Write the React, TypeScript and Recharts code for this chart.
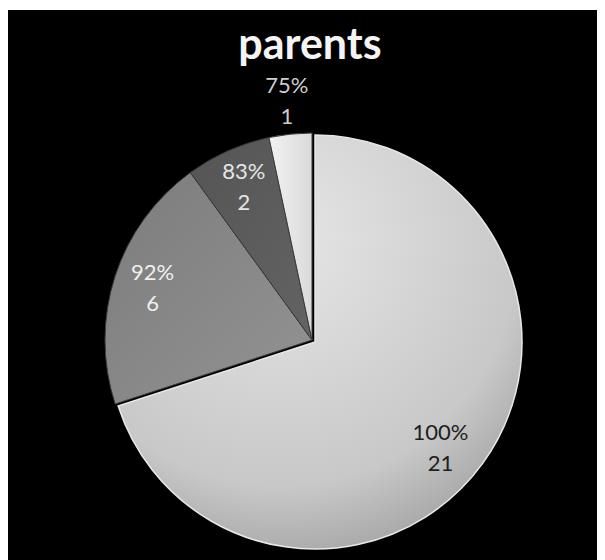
import React from "react";
import { PieChart, Pie, Cell } from "recharts";

const categories = ["100%", "92%", "83%", "75%"];
const counts = [21, 6, 2, 1];
const title = "parents";

const sliceFills = ["url(#gBig)", "url(#gMid)", "url(#gDark)", "url(#gLight)"];
const labelColors = ["#1e1e1e", "#efefef", "#e6e6e6", "#cfcfcf"];
const labelAngleShift = [-4, 0, 0, 0];

const data = categories.map((c, i) => ({ name: c, value: counts[i] }));

const RADIAN = Math.PI / 180;

const renderLabel = (props: any) => {
  const { cx, cy, midAngle, outerRadius, index } = props;
  const r = index === 3 ? outerRadius + 33 : outerRadius * 0.81;
  const a = midAngle + labelAngleShift[index];
  const x = cx + r * Math.cos(-a * RADIAN);
  const y = cy + r * Math.sin(-a * RADIAN);
  return (
    <text
      x={x}
      y={y}
      textAnchor="middle"
      fill={labelColors[index]}
      fontFamily="Lato, 'Open Sans', sans-serif"
      fontSize={22}
    >
      <tspan x={x} dy={-8}>{categories[index]}</tspan>
      <tspan x={x} dy={31}>{counts[index]}</tspan>
    </text>
  );
};

export default function App() {
  return (
    <div
      style={{
        position: "relative",
        marginLeft: 0,
        marginTop: 2,
        width: 597,
        height: 550,
        background: "#000",
        overflow: "hidden",
      }}
    >
      <div
        style={{
          position: "absolute",
          left: 0,
          width: 604,
          top: 7,
          textAlign: "center",
          color: "#f4f4f4",
          fontFamily: "Lato, 'Open Sans', sans-serif",
          fontWeight: 700,
          fontSize: 43,
          lineHeight: 1.2,
        }}
      >
        {title}
      </div>
      <PieChart width={597} height={550}>
        <defs>
          <radialGradient id="gBig" cx="0.4" cy="0.25" r="0.8">
            <stop offset="0" stopColor="#e6e6e6" />
            <stop offset="0.75" stopColor="#c8c8c8" />
            <stop offset="1" stopColor="#a4a4a4" />
          </radialGradient>
          <linearGradient id="gMid" x1="0" y1="0" x2="1" y2="1">
            <stop offset="0" stopColor="#7c7c7c" />
            <stop offset="1" stopColor="#939393" />
          </linearGradient>
          <linearGradient id="gDark" x1="0" y1="0" x2="1" y2="1">
            <stop offset="0" stopColor="#555555" />
            <stop offset="1" stopColor="#636363" />
          </linearGradient>
          <linearGradient id="gLight" x1="0" y1="0" x2="1" y2="0">
            <stop offset="0" stopColor="#f2f2f2" />
            <stop offset="1" stopColor="#dadada" />
          </linearGradient>
        </defs>
        <Pie
          data={data}
          dataKey="value"
          nameKey="name"
          cx={302}
          cy={327}
          outerRadius={207}
          startAngle={90}
          endAngle={-270}
          isAnimationActive={false}
          labelLine={false}
          stroke="none"
        >
          {data.map((d, i) => (
            <Cell
              key={d.name}
              fill={i === 0 ? sliceFills[0] : "transparent"}
              stroke={i === 0 ? "#e8e8e8" : "none"}
              strokeWidth={1.5}
            />
          ))}
        </Pie>
        <Pie
          data={data}
          dataKey="value"
          nameKey="name"
          cx={299}
          cy={325}
          outerRadius={207}
          startAngle={90}
          endAngle={-270}
          isAnimationActive={false}
          labelLine={false}
          label={renderLabel}
        >
          {data.map((d, i) => (
            <Cell
              key={d.name}
              fill={i === 0 ? "transparent" : sliceFills[i]}
              stroke={i === 0 ? "none" : "#3a3a3a"}
              strokeWidth={1}
            />
          ))}
        </Pie>
      </PieChart>
    </div>
  );
}
